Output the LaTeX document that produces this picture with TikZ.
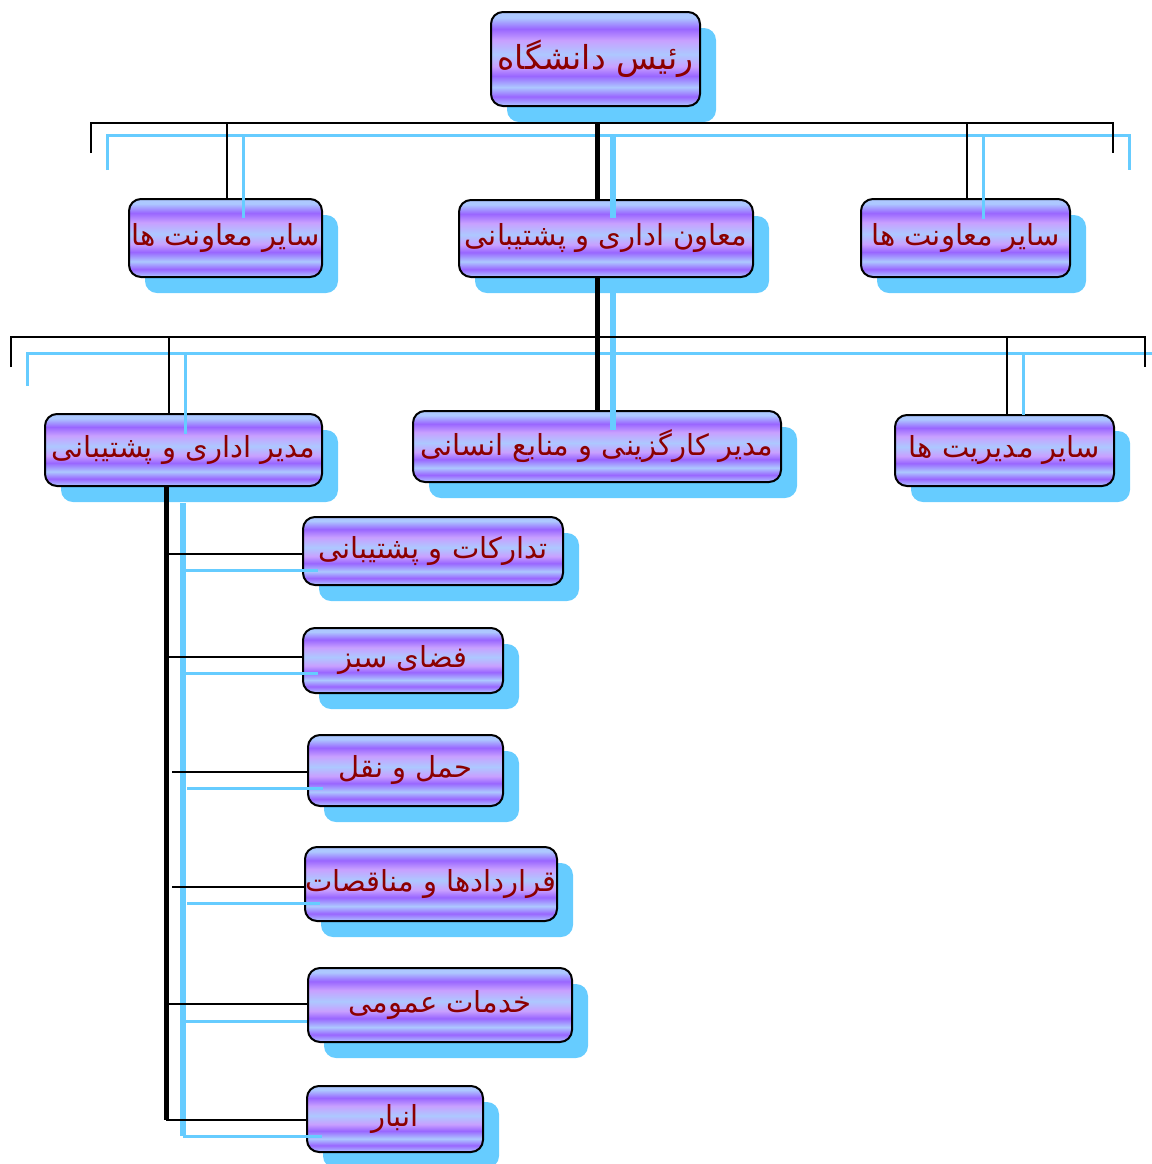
\documentclass[tikz,border=0pt]{standalone}
\usepackage{fontspec}
\newfontfamily\fa[Script=Arabic]{DejaVu Sans}
\TeXXeTstate=1
\usetikzlibrary{shadows}
\definecolor{lb}{HTML}{ADC8FF}
\definecolor{pu}{HTML}{9966FF}
\definecolor{lav}{HTML}{C8A0FF}
\definecolor{sb}{HTML}{66CCFF}
\definecolor{tx}{HTML}{8B0000}
\pgfdeclareverticalshading{stripes}{100bp}{color(0bp)=(lb); color(25bp)=(lb); color(30bp)=(pu); color(35bp)=(lb); color(41bp)=(pu); color(46bp)=(lav); color(52.5bp)=(lb); color(60bp)=(lav); color(66bp)=(pu); color(72bp)=(lb); color(75bp)=(lb); color(100bp)=(lb)}
\newcommand\myrtl[1]{\beginR #1\endR}
\begin{document}
\begin{tikzpicture}[x=0.5pt,y=-0.5pt,
  orgbox/.style={shading=stripes, draw=black, line width=1pt, rounded corners=6pt, inner sep=0pt, text=tx,
     font=\fa\fontsize{14.5}{16}\selectfont,
     general shadow={fill=sb, shadow xshift=8pt, shadow yshift=-8pt}},
  bl/.style={draw=black, line width=1pt},
  blk/.style={draw=black, line width=2.5pt},
  bu/.style={draw=sb, line width=1.5pt},
  buk/.style={draw=sb, line width=3pt}]
\useasboundingbox (0,0) rectangle (1152,1164);
\clip (0,0) rectangle (1152,1164);
% boxes
\node[orgbox, minimum width=104.5pt, minimum height=47pt, font=\fa\fontsize{16.5}{19}\selectfont] (n1) at (595.5,59) {\myrtl{رئیس دانشگاه}};
\node[orgbox, minimum width=147pt, minimum height=38.5pt] (n2) at (606,238.5) {\myrtl{معاون اداری و پشتیبانی}};
\node[orgbox, minimum width=96.5pt, minimum height=39pt] (n3) at (225.5,238) {\myrtl{سایر معاونت ها}};
\node[orgbox, minimum width=104.5pt, minimum height=39pt] (n4) at (965.5,238) {\myrtl{سایر معاونت ها}};
\node[orgbox, minimum width=138.5pt, minimum height=36pt] (n5) at (183.5,450) {\myrtl{مدیر اداری و پشتیبانی}};
\node[orgbox, minimum width=184pt, minimum height=35.5pt] (n6) at (597,446.5) {\myrtl{مدیر کارگزینی و منابع انسانی}};
\node[orgbox, minimum width=109.5pt, minimum height=35.5pt] (n7) at (1004.5,450.5) {\myrtl{سایر مدیریت ها}};
\node[orgbox, minimum width=130pt, minimum height=34pt] (c1) at (433,551) {\myrtl{تدارکات و پشتیبانی}};
\node[orgbox, minimum width=100pt, minimum height=32.5pt] (c2) at (403,660.5) {\myrtl{فضای سبز}};
\node[orgbox, minimum width=97.5pt, minimum height=35.5pt] (c3) at (405.5,770.5) {\myrtl{حمل و نقل}};
\node[orgbox, minimum width=126pt, minimum height=37pt] (c4) at (431,884) {\myrtl{قراردادها و مناقصات}};
\node[orgbox, minimum width=132pt, minimum height=37pt] (c5) at (440,1005) {\myrtl{خدمات عمومی}};
\node[orgbox, minimum width=88pt, minimum height=33pt] (c6) at (395,1119) {\myrtl{انبار}};
% coordinates
\coordinate (tL) at (91,123); \coordinate (tR) at (1113,123);
\coordinate (tLe) at (91,153); \coordinate (tRe) at (1113,153);
\coordinate (tM) at (597,123); \coordinate (tA) at (227,123); \coordinate (tB) at (967,123);
\coordinate (uL) at (107,135); \coordinate (uR) at (1129,135);
\coordinate (uLe) at (107,170); \coordinate (uRe) at (1129,170);
\coordinate (uM) at (613,136); \coordinate (uMe) at (613,218);
\coordinate (uA) at (243,135); \coordinate (uAe) at (243,218);
\coordinate (uB) at (983,135); \coordinate (uBe) at (983,219);
\coordinate (mL) at (11,337); \coordinate (mR) at (1145,337);
\coordinate (mLe) at (11,367); \coordinate (mRe) at (1145,367);
\coordinate (mM) at (597,300); \coordinate (mA) at (169,337); \coordinate (mB) at (1007,337);
\coordinate (vL) at (27,353); \coordinate (vR) at (1170,353); \coordinate (vLe) at (27,386);
\coordinate (vM) at (613,293); \coordinate (vMe) at (613,430);
\coordinate (vA) at (185,353); \coordinate (vAe) at (185,434);
\coordinate (vB) at (1023,353); \coordinate (vBe) at (1023,415);
\coordinate (k0) at (166,486); \coordinate (kE) at (166,1120);
\coordinate (k1) at (166,554); \coordinate (k2) at (166,657); \coordinate (k3) at (172,772);
\coordinate (k4) at (172,887); \coordinate (k5) at (166,1004);
\coordinate (w0) at (183,503); \coordinate (wE) at (183,1136);
\coordinate (w1) at (183,570); \coordinate (w2) at (183,673); \coordinate (w3) at (187,788);
\coordinate (w4) at (187,903); \coordinate (w5) at (183,1021);
% blue connector shadows
\draw[bu] (uLe) -- (uL) -- (uR) -- (uRe);
\draw[buk] (uM) -- (uMe);
\draw[bu] (uA) -- (uAe);
\draw[bu] (uB) -- (uBe);
\draw[buk] (vM) -- (vMe);
\draw[bu] (vLe) -- (vL) -- (vR);
\draw[bu] (vA) -- (vAe);
\draw[bu] (vB) -- (vBe);
\draw[buk] (w0) -- (wE);
\draw[bu] (w1) -- ([xshift=8pt]w1 -| c1.west);
\draw[bu] (w2) -- ([xshift=8pt]w2 -| c2.west);
\draw[bu] (w3) -- ([xshift=8pt]w3 -| c3.west);
\draw[bu] (w4) -- ([xshift=8pt]w4 -| c4.west);
\draw[bu] (w5) -- (w5 -| c5.west);
\draw[bu] (wE) -- ([xshift=8pt]wE -| c6.west);
% black connectors
\draw[bl] (tLe) -- (tL) -- (tR) -- (tRe);
\draw[blk] (tM) -- (tM |- n2.north);
\draw[bl] (tA) -- (tA |- n3.north);
\draw[bl] (tB) -- (tB |- n4.north);
\draw[bl] (mLe) -- (mL) -- (mR) -- (mRe);
\draw[blk] (mM |- n2.south) -- (mM |- n6.north);
\draw[bl] (mA) -- (mA |- n5.north);
\draw[bl] (mB) -- (mB |- n7.north);
\draw[blk] (k0) -- (kE);
\draw[bl] (k1) -- (k1 -| c1.west);
\draw[bl] (k2) -- (k2 -| c2.west);
\draw[bl] (k3) -- (k3 -| c3.west);
\draw[bl] (k4) -- (k4 -| c4.west);
\draw[bl] (k5) -- (k5 -| c5.west);
\draw[bl] (kE) -- (kE -| c6.west);
\end{tikzpicture}
\end{document}
